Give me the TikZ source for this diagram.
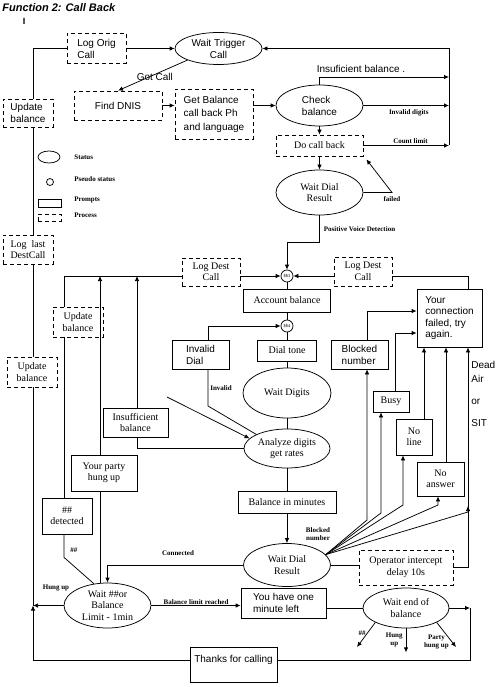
\documentclass[tikz,border=0pt]{standalone}
\usepackage{fontspec}
\setmainfont{Liberation Serif}
\setsansfont{Liberation Sans}
\usetikzlibrary{arrows.meta,shapes.geometric,calc}

\begin{document}
\begin{tikzpicture}[x=1pt,y=-1pt,line width=0.75pt,
	>={Latex[length=5pt,width=4.5pt]},
	dims/.style 2 args={minimum width=#1pt,minimum height=#2pt},
	state/.style={draw,ellipse,inner sep=0pt,align=center,font=\fontsize{10}{11.5}\selectfont},
	prompt/.style={draw,rectangle,inner sep=0pt,align=center,font=\fontsize{10}{11.5}\selectfont},
	process/.style={prompt,dash pattern=on 4pt off 3pt},
	pseudo/.style={draw,circle,inner sep=0pt,minimum size=12pt,font=\fontsize{4.5}{5}\selectfont},
	sans/.style={align=left,font=\sffamily\fontsize{10}{12}\selectfont},
	lbl/.style={inner sep=0pt,align=center,font=\bfseries\fontsize{7}{8}\selectfont},
]
	\useasboundingbox (0,0) rectangle (501,687);

	\node[anchor=west,inner sep=0pt,font=\sffamily\bfseries\itshape\fontsize{11}{13}\selectfont] (title) at (2,8) {Function 2: Call Back};
	\node[inner sep=0pt,font=\sffamily\bfseries\fontsize{9}{10}\selectfont] (cursor) at (24,21) {I};

	\node[process,sans,dims={59}{30}] (logorig) at (96.5,48.5) {Log Orig\\Call};
	\node[state,sans,align=center,dims={87}{32}] (waittrig) at (218.5,48.5) {Wait Trigger\\Call};
	\node[process,sans,dims={50}{28}] (upd1) at (28,113) {Update\\balance};
	\node[process,sans,dims={88}{29}] (dnis) at (118,105.5) {Find DNIS};
	\node[process,sans,dims={78}{50},font=\sffamily\fontsize{10}{13.5}\selectfont] (getbal) at (214,114) {Get Balance\\call back Ph\\and language};
	\node[state,sans,dims={87}{41}] (checkbal) at (319.5,105.5) {Check\\balance};
	\node[process,dims={87}{21}] (docb) at (319.5,145.5) {Do call back};
	\node[state,dims={87}{45}] (wdr1) at (319.5,192.5) {Wait Dial\\Result};

	\node[state,dims={22}{12}] (kstate) at (49,157) {};
	\node[draw,circle,minimum size=7pt,inner sep=0pt] (kpseudo) at (50,182) {};
	\node[prompt,dims={23}{8}] (kprompt) at (49.5,203) {};
	\node[process,dims={23}{7}] (kprocess) at (49.5,217.5) {};
	\node[lbl,anchor=west] (kstatet) at (74,157) {Status};
	\node[lbl,anchor=west] (kpseudot) at (74,179) {Pseudo status};
	\node[lbl,anchor=west] (kpromptt) at (74,200) {Prompts};
	\node[lbl,anchor=west] (kprocesst) at (74,215) {Process};

	\node[process,dims={50}{29}] (loglast) at (28,249.5) {Log~~last\\DestCall};
	\node[process,dims={50}{30}] (upd2) at (32,372) {Update\\balance};
	\node[process,dims={58}{28}] (logdl) at (211,272) {Log Dest\\Call};
	\node[process,dims={58}{29}] (logdr) at (363,271.5) {Log Dest\\Call};
	\node[pseudo] (ss3) at (287,276) {\$\$3};
	\node[prompt,dims={87}{23}] (accbal) at (287,300.5) {Account balance};
	\node[pseudo] (ss4) at (287,326) {\$\$4};
	\node[prompt,sans,dims={57}{29}] (invdial) at (200.5,354.5) {Invalid\\Dial};
	\node[prompt,dims={59}{21}] (dialtone) at (287,350.5) {Dial tone};
	\node[state,dims={88}{50}] (waitdig) at (287,393) {Wait Digits};
	\node[state,dims={86}{39}] (analyze) at (287,448.5) {Analyze digits\\get rates};
	\node[prompt,dims={98}{22}] (balmin) at (287,502) {Balance in minutes};
	\node[state,dims={87}{43}] (wdr2) at (287,565) {Wait Dial\\Result};
	\node[process,dims={50}{30}] (upd3) at (78,322) {Update\\balance};
	\node[prompt,dims={65}{29}] (insuf) at (135.5,422.5) {Insufficient\\balance};
	\node[prompt,dims={66}{36}] (party) at (104,473) {Your party\\hung up};
	\node[prompt,dims={50}{36}] (hashdet) at (67,516) {\#\#\\detected};
	\node[state,dims={87}{45}] (waithash) at (107.5,605.5) {Wait \#\#or\\Balance\\Limit - 1min};
	\node[prompt,sans,dims={85}{30}] (onemin) at (283.5,603) {You have one\\minute left};
	\node[state,dims={86}{40}] (waitend) at (406,608) {Wait end of\\balance};
	\node[prompt,sans,dims={87}{35}] (thanks) at (233.5,664.5) {Thanks for calling\\\mbox{}};

	\node[prompt,sans,dims={65}{58},font=\sffamily\fontsize{10}{11.2}\selectfont] (conn) at (449.5,318) {Your\\connection\\failed, try\\again.};
	\node[prompt,sans,dims={57}{29}] (blocked) at (359.5,354.5) {Blocked\\number};
	\node[prompt,dims={36}{21}] (busy) at (391,401.5) {Busy};
	\node[prompt,dims={36}{36}] (noline) at (414,437) {No\\line};
	\node[prompt,dims={47}{34}] (noans) at (440.5,479) {No\\answer};
	\node[process,dims={94}{35}] (oper) at (406,567.5) {Operator intercept\\delay 10s};
	\node[sans,anchor=north west,inner sep=0pt,font=\sffamily\fontsize{10}{14}\selectfont] (deadair) at (471,361) {Dead\\Air\\[8pt]or\\[8pt]SIT};
	\node[lbl] (blklbl) at (318,534) {Blocked\\number};

	\coordinate (lx) at (33,0);
	\coordinate (rx) at (449,0);
	\coordinate (ux) at (64,0);
	\coordinate (px) at (100,0);
	\coordinate (qx) at (137,0);
	\coordinate (ix) at (208,0);
	\coordinate (dx) at (468,0);
	\coordinate (ex) at (470,0);
	\coordinate (bx) at (395,0);
	\coordinate (nx) at (424,0);
	\coordinate (ax) at (446,0);
	\coordinate (tb) at (0,660);
	\coordinate (ib) at (449,77);
	\coordinate (fc) at (392,192.5);
	\coordinate (iv) at (208,406);
	\coordinate (free) at (167,397);
	\coordinate (jn) at (waithash.west -| lx);
	\coordinate (rtop) at (waittrig.east -| rx);
	\coordinate (wh) at (357,647);
	\coordinate (ph) at (456,647);
	\coordinate (f1) at (367,520);
	\coordinate (f2) at (381,513);
	\coordinate (f3) at (403,505);
	\coordinate (f4) at (438,505);
	\coordinate (f5) at (468,506);

	% top part
	\draw[->] (logorig) -- (waittrig);
	\draw (logorig.west) -| (upd1.north -| lx);
	\draw (upd1.south -| lx) -- (loglast.north -| lx);
	\draw (loglast.south -| lx) -- (upd2.north -| lx);
	\draw (upd2.south -| lx) -- (jn);
	\draw[->] (waittrig.south west) -- node[sans,pos=0.47,yshift=-2pt] {Got Call} (dnis.north);
	\draw[->] (dnis.east) -- (dnis.east -| getbal.west);
	\draw[->] (getbal.east |- checkbal.west) -- (checkbal.west);
	\draw[->] (checkbal.north) |- node[sans,above=1pt,pos=0.66] {Insuficient balance .} (ib);
	\draw[->] (checkbal.east) -- node[lbl,below=4pt,pos=0.53] {Invalid digits} (checkbal.east -| rx);
	\draw[->] (docb.east) -- node[lbl,above=2pt,pos=0.55] {Count limit} (docb.east -| rx);
	\draw[->] (docb.east -| rx) -- (rtop) -- (waittrig.east);
	\draw[->] (checkbal) -- (docb);
	\draw[->] (docb) -- (wdr1);
	\draw[->] (wdr1.east) -- (fc) node[lbl,below=4pt] {failed} -- ($(docb.south east)+(3,3)$);
	\draw[->] (wdr1.south) -- node[lbl,right=4pt] {Positive Voice Detection} ++(0,27) -| (ss3.north);

	% middle
	\draw[->] (logdr.west |- ss3) -- (ss3.east);
	\draw[->] (logdl.east |- ss3) -- (ss3.west);
	\draw (logdr.east |- ss3) -| (conn.north -| dx);
	\draw (logdl.west |- ss3) -| (upd3.north -| ux);
	\draw (upd3.south -| ux) -- (hashdet.north -| ux);
	\draw (hashdet.south -| ux) -- node[lbl,right=6pt,pos=0.7] {\#\#} ++(0,23) -- (waithash.122);
	\draw[->] (party.north -| px) -- (ss3 -| px);
	\draw (waithash.north -| px) -- (party.south -| px);
	\draw[->] (insuf.north -| qx) -- (ss3 -| qx);
	\draw (analyze.west) -| (insuf.south -| qx);
	\draw[->] (free) -- (analyze.165);
	\draw[->] (invdial.north -| ix) |- (ss4.west);
	\draw (analyze.north west) -- (iv) -- node[lbl,right=2pt] {Invalid} (invdial.south -| ix);
	\draw (ss3) -- (accbal);
	\draw (accbal) -- (ss4);
	\draw (ss4) -- (dialtone);
	\draw (dialtone) -- (waitdig);
	\draw (waitdig) -- (analyze);
	\draw (analyze) -- (balmin);
	\draw[->] (balmin) -- (wdr2);

	% right side
	\draw[->] (wdr2.15) -- (f1) -- (f1 |- blocked.south);
	\draw[->] (wdr2.15) -- (f2) -- (f2 |- busy.south);
	\draw[->] (wdr2.15) -- (f3) -- (f3 |- noline.south);
	\draw[->] (wdr2.15) -- (f4) -- (f4 |- noans.south);
	\draw[->] (wdr2.15) -- ($(f5)+(0,6)$) -- (f5);
	\draw[->] (oper.east) -| (conn.south -| dx);
	\draw (wdr2.east) -- (wdr2.east -| oper.west);
	\draw[->] (blocked.north -| f1) |- ([yshift=7pt]conn.west);
	\draw[->] (busy.north -| bx) |- ([yshift=-15pt]conn.west);
	\draw[->] (noline.north -| nx) -- (conn.south -| nx);
	\draw[->] (noans.north -| ax) -- (conn.south -| ax);

	% bottom
	\draw[->] (wdr2.west) -| node[lbl,above=9pt,pos=0.24] {Connected} (waithash.north);
	\draw[->] (waithash.west) -- node[lbl,above=14pt,pos=0.25] {Hung up} (jn);
	\draw[->] (thanks.west |- tb) -| (jn);
	\draw[->] (waithash.east) -- node[lbl,above=0.5pt] {Balance limit reached} (waithash.east -| onemin.west);
	\draw (onemin.east |- waitend) -- (waitend.west);
	\draw[->] (waitend.east) -- (waitend.east -| ex);
	\draw (waitend.east -| ex) |- (thanks.east |- tb);
	\draw[->] (waitend.south west) -- node[lbl,pos=0.45,left=1pt] {\#\#} (wh);
	\draw[->] (waitend.south) -- node[lbl,left=3pt] {Hung\\up} ++(0,24);
	\draw[->] (waitend.south east) -- node[lbl,pos=0.8,left=3pt] {Party\\hung up} (ph);
\end{tikzpicture}
\end{document}
